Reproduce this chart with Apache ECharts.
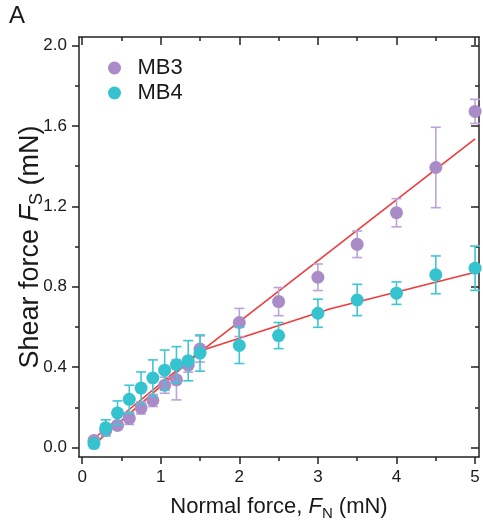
<!DOCTYPE html>
<html>
<head>
<meta charset="utf-8">
<script src="https://cdn.jsdelivr.net/npm/echarts@6/dist/echarts.min.js"></script>
<style>
html,body{margin:0;padding:0;background:#fff;}
#chart{width:483px;height:529px;}
</style>
</head>
<body>
<div id="chart"></div>
<script>
// ---- data ----
const xValues   = [0.15, 0.3, 0.45, 0.6, 0.75, 0.9, 1.05, 1.2, 1.35, 1.5, 2, 2.5, 3, 3.5, 4, 4.5, 5];
const mb3Values = [0.035, 0.085, 0.11, 0.145, 0.197, 0.234, 0.31, 0.337, 0.41, 0.49, 0.622, 0.726, 0.847, 1.011, 1.168, 1.393, 1.672];
const mb3Errors = [0.015, 0.02, 0.02, 0.03, 0.03, 0.03, 0.04, 0.10, 0.035, 0.065, 0.07, 0.07, 0.066, 0.066, 0.07, 0.20, 0.06];
const mb4Values = [0.02, 0.098, 0.172, 0.24, 0.296, 0.346, 0.385, 0.412, 0.432, 0.47, 0.508, 0.557, 0.668, 0.734, 0.768, 0.859, 0.892];
const mb4Errors = [0.02, 0.04, 0.06, 0.07, 0.08, 0.09, 0.10, 0.09, 0.10, 0.09, 0.09, 0.065, 0.07, 0.078, 0.056, 0.094, 0.11];
const fitMB3X = [0.15, 1.5, 5];
const fitMB3Y = [0.015, 0.475, 1.535];
const fitMB4X = [0.15, 1.5, 3.16, 5];
const fitMB4Y = [0.045, 0.48, 0.69, 0.872];
const xTicks = [0, 1, 2, 3, 4, 5];
const xMinorTicks = [0.5, 1.5, 2.5, 3.5, 4.5];
const yTicks = [0, 0.4, 0.8, 1.2, 1.6, 2.0];
const yMinorTicks = [0.2, 0.6, 1.0, 1.4, 1.8];

const seriesNames = ['MB3', 'MB4'];
const purple = '#a98bc8', purpleBar = '#bba3d8';
const teal = '#35c3cf', tealBar = '#3fc6d2';
const red = '#f23a3a';
const axisColor = '#222';
const FONT = 'Liberation Sans, Arial, sans-serif';

const X_MIN = -0.04, X_MAX = 5.05, Y_MIN = -0.047, Y_MAX = 2.042;

function zip(xs, ys) { return xs.map((x, i) => [x, ys[i]]); }
function errData(xs, ys, es) { return xs.map((x, i) => [x, ys[i] - es[i], ys[i] + es[i]]); }

function errorBarRender(color) {
  return function (params, api) {
    const x = api.value(0);
    const lo = api.coord([x, api.value(1)]);
    const hi = api.coord([x, api.value(2)]);
    const half = 5;
    const style = { stroke: color, lineWidth: 1.6, fill: null };
    return {
      type: 'group',
      children: [
        { type: 'line', shape: { x1: lo[0], y1: lo[1], x2: hi[0], y2: hi[1] }, style: style },
        { type: 'line', shape: { x1: lo[0] - half, y1: lo[1], x2: lo[0] + half, y2: lo[1] }, style: style },
        { type: 'line', shape: { x1: hi[0] - half, y1: hi[1], x2: hi[0] + half, y2: hi[1] }, style: style }
      ]
    };
  };
}

function xAxisDef(position, ticks, len, inside, labels, line) {
  return {
    type: 'value', position: position, min: X_MIN, max: X_MAX,
    axisLine: { show: line, onZero: false, lineStyle: { color: axisColor, width: 1.5 } },
    axisTick: { show: true, inside: inside, length: len, customValues: ticks, lineStyle: { color: axisColor, width: 1.5 } },
    axisLabel: labels ? { show: true, customValues: ticks, margin: 12, color: '#1a1a1a', fontSize: 17, fontFamily: FONT } : { show: false },
    splitLine: { show: false }
  };
}
function yAxisDef(position, ticks, len, inside, labels, line) {
  return {
    type: 'value', position: position, min: Y_MIN, max: Y_MAX,
    axisLine: { show: line, onZero: false, lineStyle: { color: axisColor, width: 1.5 } },
    axisTick: { show: true, inside: inside, length: len, customValues: ticks, lineStyle: { color: axisColor, width: 1.5 } },
    axisLabel: labels ? { show: true, customValues: ticks, margin: 12, color: '#1a1a1a', fontSize: 17, fontFamily: FONT,
      formatter: v => v.toFixed(1) } : { show: false },
    splitLine: { show: false }
  };
}

function titleRich(size) {
  const lh = Math.max(28, size + 4);
  return {
    n: { fontSize: size, fontFamily: FONT, color: '#1a1a1a', lineHeight: lh, verticalAlign: 'middle' },
    i: { fontSize: size, fontFamily: FONT, fontStyle: 'italic', color: '#1a1a1a', lineHeight: lh, verticalAlign: 'middle' },
    s: { fontSize: Math.round(size * 0.68), fontFamily: FONT, color: '#1a1a1a', verticalAlign: 'bottom' }
  };
}

const xMain = xAxisDef('bottom', xTicks, 7, false, true, true);
xMain.name = '{n|Normal force, }{i|F}{s|N}{n| (mN)}';
xMain.nameLocation = 'middle';
xMain.nameGap = 36;
xMain.nameMoveOverlap = false;
xMain.nameTextStyle = { rich: titleRich(22) };
const yMain = yAxisDef('left', yTicks, 7, false, true, true);
yMain.name = '{n|Shear force }{i|F}{s|S}{n| (mN)}';
yMain.nameLocation = 'middle';
yMain.nameGap = 33;
yMain.nameMoveOverlap = false;
yMain.nameTextStyle = { rich: titleRich(27) };

const chart = echarts.init(document.getElementById('chart'), null, { renderer: 'canvas' });
chart.setOption({
  backgroundColor: '#fff',
  animation: false,
  grid: { left: 79, right: 4, top: 37, bottom: 72, containLabel: false },
  graphic: [{ type: 'text', left: 9, top: 4, style: { text: 'A', fontSize: 24, fontFamily: FONT, fill: '#1a1a1a' } }],
  legend: {
    orient: 'vertical', left: 103, top: 52, itemWidth: 36, itemHeight: 13, itemGap: 3,
    icon: 'circle',
    textStyle: { fontSize: 22, fontFamily: FONT, color: '#1a1a1a', padding: [0, 0, 0, 0] },
    data: seriesNames
  },
  xAxis: [
    xMain,
    xAxisDef('bottom', xMinorTicks, 4, false, false, false),
    xAxisDef('top', xTicks, 8, true, false, true),
    xAxisDef('top', xMinorTicks, 4, true, false, false)
  ],
  yAxis: [
    yMain,
    yAxisDef('left', yMinorTicks, 4, false, false, false),
    yAxisDef('right', yTicks, 8, true, false, true),
    yAxisDef('right', yMinorTicks, 4, true, false, false)
  ],
  series: [
    { type: 'line', name: 'fitMB3', data: zip(fitMB3X, fitMB3Y), showSymbol: false, symbol: 'none',
      lineStyle: { color: red, width: 1.6 }, z: 1, silent: true },
    { type: 'line', name: 'fitMB4', data: zip(fitMB4X, fitMB4Y), showSymbol: false, symbol: 'none',
      lineStyle: { color: red, width: 1.6 }, z: 1, silent: true },
    { type: 'custom', name: 'errMB3', data: errData(xValues, mb3Values, mb3Errors),
      encode: { x: 0, y: [1, 2] }, renderItem: errorBarRender(purpleBar), z: 2 },
    { type: 'scatter', name: seriesNames[0], data: zip(xValues, mb3Values), symbol: 'circle', symbolSize: 13,
      itemStyle: { color: purple, opacity: 1 }, z: 3 },
    { type: 'custom', name: 'errMB4', data: errData(xValues, mb4Values, mb4Errors),
      encode: { x: 0, y: [1, 2] }, renderItem: errorBarRender(tealBar), z: 4 },
    { type: 'scatter', name: seriesNames[1], data: zip(xValues, mb4Values), symbol: 'circle', symbolSize: 13,
      itemStyle: { color: teal, opacity: 1 }, z: 5 }
  ]
});
</script>
</body>
</html>
